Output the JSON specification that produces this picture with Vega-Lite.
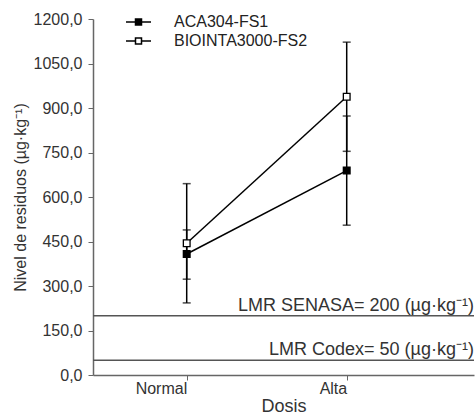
{
  "$schema": "https://vega.github.io/schema/vega-lite/v6.json",
  "width": 381,
  "height": 356,
  "autosize": {"type": "none"},
  "padding": {"left": 93, "top": 19, "right": 1, "bottom": 44},
  "background": "white",
  "config": {
    "view": {"stroke": null},
    "font": "Liberation Sans",
    "axis": {"grid": false, "labelColor": "#333", "titleColor": "#333", "domainColor": "#666", "tickColor": "#666", "labelFont": "Liberation Sans", "titleFont": "Liberation Sans", "titleFontWeight": "normal"}
  },
  "datasets": {
    "means": [
      {"cultivar": "ACA304-FS1", "dosis": "Normal", "mean": 408, "low": 323, "high": 489},
      {"cultivar": "ACA304-FS1", "dosis": "Alta", "mean": 689, "low": 505, "high": 873},
      {"cultivar": "BIOINTA3000-FS2", "dosis": "Normal", "mean": 444, "low": 243, "high": 645},
      {"cultivar": "BIOINTA3000-FS2", "dosis": "Alta", "mean": 938, "low": 754, "high": 1122}
    ],
    "refs": [
      {"limit": 200, "label": "LMR SENASA= 200 (µg·kg⁻¹)"},
      {"limit": 50, "label": "LMR Codex= 50 (µg·kg⁻¹)"}
    ]
  },
  "layer": [
    {
      "data": {"name": "refs"},
      "mark": {"type": "rule", "color": "#555", "strokeWidth": 1.5},
      "encoding": {
        "y": {"field": "limit", "type": "quantitative", "scale": {"domain": [0, 1200]}}
      }
    },
    {
      "data": {"name": "refs"},
      "mark": {"type": "text", "align": "right", "baseline": "alphabetic", "dy": -5, "fontSize": 18, "color": "#333", "font": "Liberation Sans"},
      "encoding": {
        "x": {"value": {"expr": "width"}},
        "y": {"field": "limit", "type": "quantitative"},
        "text": {"field": "label"}
      }
    },
    {
      "data": {"name": "means"},
      "mark": {"type": "rule", "color": "black", "strokeWidth": 1.5},
      "encoding": {
        "x": {"field": "dosis", "type": "nominal"},
        "y": {"field": "low", "type": "quantitative"},
        "y2": {"field": "high"}
      }
    },
    {
      "data": {"name": "means"},
      "mark": {"type": "tick", "orient": "horizontal", "color": "black", "size": 8, "thickness": 1.5},
      "encoding": {
        "x": {"field": "dosis", "type": "nominal"},
        "y": {"field": "low", "type": "quantitative"}
      }
    },
    {
      "data": {"name": "means"},
      "mark": {"type": "tick", "orient": "horizontal", "color": "black", "size": 8, "thickness": 1.5},
      "encoding": {
        "x": {"field": "dosis", "type": "nominal"},
        "y": {"field": "high", "type": "quantitative"}
      }
    },
    {
      "data": {"name": "means"},
      "mark": {"type": "line", "color": "black", "strokeWidth": 1.5},
      "encoding": {
        "x": {"field": "dosis", "type": "nominal"},
        "y": {"field": "mean", "type": "quantitative"},
        "detail": {"field": "cultivar"}
      }
    },
    {
      "data": {"name": "means"},
      "mark": {"type": "point", "shape": "square", "filled": true, "size": 45, "stroke": "black", "strokeWidth": 1.3, "opacity": 1},
      "encoding": {
        "x": {
          "field": "dosis", "type": "nominal",
          "sort": ["Normal", "Alta"],
          "scale": {"type": "point", "domain": ["Normal", "Alta"], "padding": 0.6906, "align": 0.424},
          "axis": {"title": "Dosis", "labelAngle": 0, "labelFontSize": 16, "titleFontSize": 18, "tickSize": 5, "labelPadding": 8, "titlePadding": 1, "domainWidth": 1.5}
        },
        "y": {
          "field": "mean", "type": "quantitative",
          "scale": {"domain": [0, 1200]},
          "axis": {"title": "Nivel de residuos (µg·kg⁻¹)", "values": [0, 150, 300, 450, 600, 750, 900, 1050, 1200], "labelExpr": "replace(format(datum.value, '.1f'), '.', ',')", "labelFontSize": 16, "titleFontSize": 16, "tickSize": 5, "labelPadding": 6, "titlePadding": 5, "domainWidth": 1.5}
        },
        "fill": {
          "field": "cultivar", "type": "nominal",
          "scale": {"domain": ["ACA304-FS1", "BIOINTA3000-FS2"], "range": ["black", "white"]},
          "legend": {
            "title": null, "orient": "none", "legendX": 37.5, "legendY": -5, "padding": 0,
            "symbolType": "M-2.5,0H-0.6M0.6,0H2.5M-0.6,-0.6H0.6V0.6H-0.6Z",
            "symbolSize": 100, "symbolStrokeColor": "black", "symbolStrokeWidth": 1.5,
            "labelOffset": 27.5, "labelFontSize": 16, "labelColor": "#222", "labelFont": "Liberation Sans", "rowPadding": 3
          }
        }
      }
    }
  ]
}
